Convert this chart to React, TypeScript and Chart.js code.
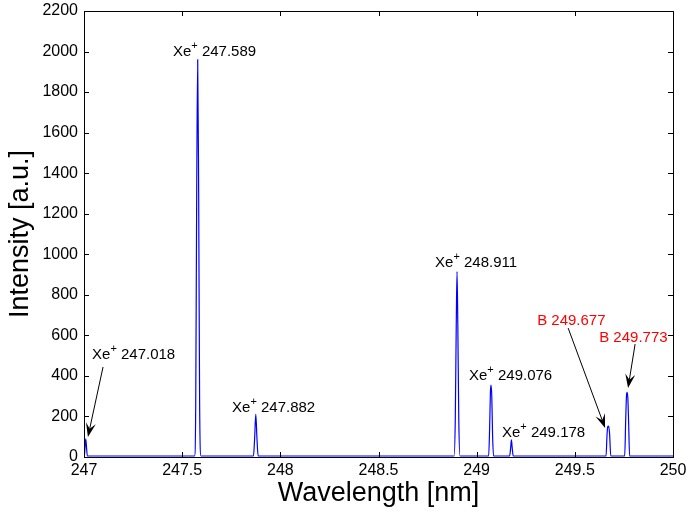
import React, { useEffect, useRef } from "react";
import { Chart, registerables } from "chart.js";

Chart.register(...registerables);

// Spectrum samples (wavelength in nm, intensity in a.u.)
const wavelengths = [
  247.0, 247.002, 247.005, 247.009, 247.013, 247.017,
  247.563, 247.569, 247.574, 247.579, 247.584, 247.589, 247.596,
  247.863, 247.869, 247.875, 247.881, 247.887,
  248.885, 248.891, 248.896, 248.9, 248.904, 248.909, 248.915,
  249.061, 249.066, 249.07, 249.073, 249.077, 249.081, 249.086,
  249.168, 249.173, 249.177, 249.181, 249.186,
  249.659, 249.664, 249.668, 249.672, 249.677, 249.683,
  249.754, 249.759, 249.763, 249.766, 249.77, 249.774, 249.779,
  250.0,
];
const intensities = [
  5, 5, 45, 89, 45, 5,
  5, 250, 1300, 1960, 1300, 250, 5,
  5, 90, 212, 90, 5,
  5, 180, 650, 914, 650, 180, 5,
  5, 140, 320, 355, 300, 110, 5,
  5, 45, 84, 45, 5,
  5, 110, 150, 153, 115, 5,
  5, 180, 300, 319, 290, 170, 5,
  5,
];

const xTicks = [247, 247.5, 248, 248.5, 249, 249.5, 250];
const yTicks = [0, 200, 400, 600, 800, 1000, 1200, 1400, 1600, 1800, 2000, 2200];

// Annotation labels: species, wavelength label, label anchor (data coords), colour
const labelSpecies = ["Xe", "Xe", "Xe", "Xe", "Xe", "Xe", "B", "B"];
const labelIons = ["+", "+", "+", "+", "+", "+", "", ""];
const labelValues = ["247.589", "247.018", "247.882", "248.911", "249.076", "249.178", "249.677", "249.773"];
const labelX = [247.453, 247.041, 247.754, 248.788, 248.961, 249.129, 249.308, 249.624];
const labelY = [1978, 483, 222, 937, 380, 99, 651, 567];
const labelColors = ["#000", "#000", "#000", "#000", "#000", "#000", "#ff0000", "#ff0000"];

// Arrows: from (x0,y0) to tip (x1,y1), data coords
const arrowX0 = [247.097, 249.466, 249.807];
const arrowY0 = [444, 636, 557];
const arrowX1 = [247.02, 249.654, 249.771];
const arrowY1 = [99, 143, 340];

const FONT = "'Liberation Sans', Arial, Helvetica, sans-serif";

const decorPlugin = {
  id: "decor",
  afterDraw(chart: any) {
    const { ctx, chartArea } = chart;
    const xs = chart.scales.x;
    const ys = chart.scales.y;
    const { left, right, top, bottom } = chartArea;
    ctx.save();
    ctx.strokeStyle = "#000";
    ctx.lineWidth = 1;
    ctx.strokeRect(Math.round(left) + 0.5, Math.round(top) + 0.5, Math.round(right - left), Math.round(bottom - top));
    const tl = 5;
    ctx.beginPath();
    xTicks.forEach((v) => {
      const px = Math.round(xs.getPixelForValue(v)) + 0.5;
      ctx.moveTo(px, bottom);
      ctx.lineTo(px, bottom - tl);
      ctx.moveTo(px, top);
      ctx.lineTo(px, top + tl);
    });
    yTicks.forEach((v) => {
      const py = Math.round(ys.getPixelForValue(v)) + 0.5;
      ctx.moveTo(left, py);
      ctx.lineTo(left + tl, py);
      ctx.moveTo(right, py);
      ctx.lineTo(right - tl, py);
    });
    ctx.stroke();

    ctx.textBaseline = "alphabetic";
    ctx.textAlign = "left";
    labelSpecies.forEach((sp, i) => {
      let x = xs.getPixelForValue(labelX[i]);
      const y = ys.getPixelForValue(labelY[i]);
      ctx.fillStyle = labelColors[i];
      ctx.font = `15px ${FONT}`;
      ctx.fillText(sp, x, y);
      x += ctx.measureText(sp).width;
      if (labelIons[i]) {
        ctx.font = `11px ${FONT}`;
        ctx.fillText(labelIons[i], x, y - 7);
        x += ctx.measureText(labelIons[i]).width;
      }
      ctx.font = `15px ${FONT}`;
      ctx.fillText(" " + labelValues[i], x, y);
    });

    ctx.strokeStyle = "#000";
    ctx.fillStyle = "#000";
    arrowX0.forEach((_, i) => {
      const x0 = xs.getPixelForValue(arrowX0[i]);
      const y0 = ys.getPixelForValue(arrowY0[i]);
      const x1 = xs.getPixelForValue(arrowX1[i]);
      const y1 = ys.getPixelForValue(arrowY1[i]);
      const dx = x1 - x0, dy = y1 - y0;
      const len = Math.hypot(dx, dy);
      const ux = dx / len, uy = dy / len;
      const nx = -uy, ny = ux;
      const L = 14, W = 10;
      ctx.lineWidth = 1;
      ctx.beginPath();
      ctx.moveTo(x0, y0);
      ctx.lineTo(x1 - ux * L * 0.6, y1 - uy * L * 0.6);
      ctx.stroke();
      ctx.beginPath();
      ctx.moveTo(x1, y1);
      ctx.lineTo(x1 - ux * L + nx * W / 2, y1 - uy * L + ny * W / 2);
      ctx.lineTo(x1 - ux * L * 0.6, y1 - uy * L * 0.6);
      ctx.lineTo(x1 - ux * L - nx * W / 2, y1 - uy * L - ny * W / 2);
      ctx.closePath();
      ctx.fill();
    });
    ctx.restore();
  },
};

export default function App() {
  const canvasRef = useRef<HTMLCanvasElement | null>(null);
  useEffect(() => {
    if (!canvasRef.current) return;
    const data = wavelengths.map((w, i) => ({ x: w, y: intensities[i] }));
    const chart = new Chart(canvasRef.current, {
      type: "line",
      data: {
        datasets: [
          {
            data,
            borderColor: "#0000ff",
            borderWidth: 1.2,
            pointRadius: 0,
            fill: false,
            cubicInterpolationMode: "monotone",
          },
        ],
      },
      options: {
        animation: false,
        responsive: true,
        maintainAspectRatio: false,
        layout: { padding: { top: 11, right: 13, left: 0, bottom: 0 } },
        plugins: { legend: { display: false }, tooltip: { enabled: false } },
        scales: {
          x: {
            type: "linear",
            min: 247,
            max: 250,
            afterBuildTicks: (s: any) => {
              s.ticks = xTicks.map((v) => ({ value: v }));
            },
            afterFit: (s: any) => {
              s.height = 58;
              s.paddingLeft = 0;
              s.paddingRight = 0;
            },
            ticks: {
              color: "#000",
              font: { family: FONT, size: 16 },
              padding: 4,
              maxRotation: 0,
              autoSkip: false,
              callback: (v: any) => (Number.isInteger(v) ? String(v) : Number(v).toFixed(1)),
            },
            grid: { display: false, drawTicks: false },
            border: { display: false },
            title: {
              display: true,
              text: "Wavelength [nm]",
              color: "#000",
              font: { family: FONT, size: 27 },
              padding: { top: 0, bottom: 5 },
            },
          },
          y: {
            type: "linear",
            min: 0,
            max: 2200,
            afterBuildTicks: (s: any) => {
              s.ticks = yTicks.map((v) => ({ value: v }));
            },
            afterFit: (s: any) => {
              s.width = 84;
              s.paddingTop = 0;
              s.paddingBottom = 0;
            },
            ticks: {
              color: "#000",
              font: { family: FONT, size: 16 },
              padding: 6,
              autoSkip: false,
              callback: (v: any) => String(v),
            },
            grid: { display: false, drawTicks: false },
            border: { display: false },
            title: {
              display: true,
              text: "Intensity [a.u.]",
              color: "#000",
              font: { family: FONT, size: 27 },
              padding: { top: 4, bottom: 0 },
            },
          },
        },
      },
      plugins: [decorPlugin],
    });
    return () => chart.destroy();
  }, []);
  return (
    <div style={{ position: "absolute", left: 0, top: 0, width: 686, height: 515, background: "#fff" }}>
      <canvas ref={canvasRef} />
    </div>
  );
}
